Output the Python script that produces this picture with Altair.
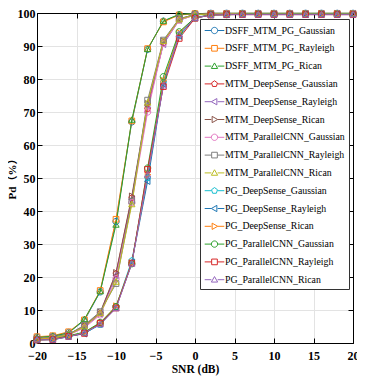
import altair as alt
import pandas as pd

snr = list(range(-20, 21, 2))

series_names = [
    "DSFF_MTM_PG_Gaussian", "DSFF_MTM_PG_Rayleigh", "DSFF_MTM_PG_Rican",
    "MTM_DeepSense_Gaussian", "MTM_DeepSense_Rayleigh", "MTM_DeepSense_Rican",
    "MTM_ParallelCNN_Gaussian", "MTM_ParallelCNN_Rayleigh", "MTM_ParallelCNN_Rican",
    "PG_DeepSense_Gaussian", "PG_DeepSense_Rayleigh", "PG_DeepSense_Rican",
    "PG_ParallelCNN_Gaussian", "PG_ParallelCNN_Rayleigh", "PG_ParallelCNN_Rican",
]

tail_hi = [99.8, 99.9, 99.9, 99.9, 99.9, 99.9, 99.9, 99.9, 99.9, 99.9, 99.9]
dsff_gauss = [1.8, 2.0, 3.2, 6.8, 15.5, 36.8, 67.0, 89.0, 97.5, 99.5] + tail_hi
dsff_rayl = [1.9, 2.2, 3.4, 7.0, 15.9, 37.5, 67.3, 89.2, 97.3, 99.4] + tail_hi
dsff_rican = [1.6, 2.1, 3.0, 7.2, 15.6, 35.8, 67.6, 89.0, 97.6, 99.6] + tail_hi
mtm_ds_gauss = [1.2, 1.6, 2.6, 5.0, 9.0, 21.0, 44.0, 71.0, 91.0, 98.0, 99.5, 99.7, 99.8, 99.8, 99.8, 99.8, 99.8, 99.8, 99.8, 99.8, 99.8]
mtm_ds_rayl = [1.1, 1.5, 2.5, 4.8, 8.8, 20.5, 43.5, 72.0, 90.5, 97.8, 99.4, 99.7, 99.7, 99.8, 99.8, 99.8, 99.8, 99.8, 99.8, 99.8, 99.8]
mtm_ds_rican = [1.3, 1.7, 2.7, 5.2, 9.3, 21.3, 44.5, 72.5, 91.5, 98.2, 99.6, 99.8, 99.8, 99.8, 99.8, 99.8, 99.8, 99.8, 99.8, 99.8, 99.8]
mtm_pc_gauss = [1.0, 1.5, 2.4, 4.6, 8.5, 19.5, 42.5, 70.0, 90.8, 97.8, 99.4, 99.7, 99.7, 99.7, 99.7, 99.7, 99.7, 99.7, 99.7, 99.7, 99.7]
mtm_pc_rayl = [1.2, 1.8, 2.6, 5.4, 9.5, 18.0, 43.0, 73.6, 91.8, 98.3, 99.5, 99.7, 99.7, 99.7, 99.7, 99.7, 99.7, 99.7, 99.7, 99.7, 99.7]
mtm_pc_rican = [1.1, 1.6, 2.5, 5.0, 9.0, 18.5, 42.0, 72.8, 91.5, 98.0, 99.5, 99.7, 99.7, 99.7, 99.7, 99.7, 99.7, 99.7, 99.7, 99.7, 99.7]
pg_ds_gauss = [0.9, 1.0, 1.9, 3.0, 5.5, 11.0, 25.0, 50.0, 79.0, 93.5, 98.4, 99.4, 99.5, 99.6, 99.6, 99.6, 99.6, 99.6, 99.6, 99.6, 99.6]
pg_ds_rayl = [1.0, 1.1, 2.0, 2.8, 5.8, 10.8, 24.5, 49.0, 78.5, 93.0, 98.5, 99.4, 99.5, 99.6, 99.6, 99.6, 99.6, 99.6, 99.6, 99.6, 99.6]
pg_ds_rican = [1.1, 1.2, 2.1, 3.2, 6.0, 11.2, 24.3, 51.0, 79.5, 94.0, 98.6, 99.4, 99.5, 99.6, 99.6, 99.6, 99.6, 99.6, 99.6, 99.6, 99.6]
pg_pc_gauss = [1.0, 1.1, 2.2, 3.3, 6.2, 11.0, 24.0, 53.0, 80.7, 94.3, 98.6, 99.5, 99.5, 99.6, 99.6, 99.6, 99.6, 99.6, 99.6, 99.6, 99.6]
pg_pc_rayl = [0.9, 1.0, 2.0, 2.9, 6.0, 10.6, 24.2, 52.6, 77.7, 92.3, 98.4, 99.4, 99.5, 99.5, 99.5, 99.5, 99.5, 99.5, 99.5, 99.5, 99.5]
pg_pc_rican = [1.0, 1.0, 1.9, 3.1, 5.6, 10.5, 24.0, 51.0, 78.0, 93.5, 98.5, 99.4, 99.5, 99.5, 99.5, 99.5, 99.5, 99.5, 99.5, 99.5, 99.5]

series_values = [
    dsff_gauss, dsff_rayl, dsff_rican,
    mtm_ds_gauss, mtm_ds_rayl, mtm_ds_rican,
    mtm_pc_gauss, mtm_pc_rayl, mtm_pc_rican,
    pg_ds_gauss, pg_ds_rayl, pg_ds_rican,
    pg_pc_gauss, pg_pc_rayl, pg_pc_rican,
]

colors = ["#1f77b4", "#ff7f0e", "#2ca02c", "#d62728", "#9467bd", "#8c564b",
          "#e377c2", "#7f7f7f", "#bcbd22", "#17becf",
          "#1f77b4", "#ff7f0e", "#2ca02c", "#d62728", "#9467bd"]
marker_kinds = ["o", "s", "^", "p", "<", ">", "o", "s", "^", "p", "<", ">", "o", "s", "^"]


def marker_path(kind, r):
    if kind == "o":
        return f"M{r},0A{r},{r} 0 1,1 {-r},0A{r},{r} 0 1,1 {r},0Z"
    if kind == "s":
        a = r * 0.9
        return f"M{-a},{-a}H{a}V{a}H{-a}Z"
    if kind == "^":
        return f"M0,{-r}L{r*1.0},{r*0.75}L{-r*1.0},{r*0.75}Z"
    if kind == "<":
        return f"M{-r},0L{r*0.75},{-r}L{r*0.75},{r}Z"
    if kind == ">":
        return f"M{r},0L{-r*0.75},{-r}L{-r*0.75},{r}Z"
    # pentagon
    return (f"M0,{-r}L{r*0.95},{-r*0.31}L{r*0.59},{r*0.81}"
            f"L{-r*0.59},{r*0.81}L{-r*0.95},{-r*0.31}Z")


plot_shapes = [marker_path(k, 0.9) for k in marker_kinds]
legend_shapes = [f"M-1.4,0H-0.45M0.45,0H1.4" + marker_path(k, 0.45) for k in marker_kinds]

rows = []
for i, (name, vals) in enumerate(zip(series_names, series_values)):
    for x, v in zip(snr, vals):
        rows.append({"series": name, "order": i, "snr": x, "pd": v})
df = pd.DataFrame(rows)

FONT = "Liberation Serif"

xscale = alt.Scale(domain=[-20, 20], nice=False)
yscale = alt.Scale(domain=[0, 100], nice=False)
color_scale = alt.Scale(domain=series_names, range=colors)

tick_in = alt.ExprRef("-5")

x_bottom = alt.Axis(values=list(range(-20, 21, 5)), grid=True, gridColor="#e3e3e3",
                    tickSize=tick_in, tickColor="black", domainColor="black",
                    labelFont=FONT, labelFontWeight="bold", labelFontSize=12,
                    labelColor="black", labelPadding=12, labelFlush=False,
                    title="SNR (dB)", titleFont=FONT, titleFontWeight="bold",
                    titleFontSize=11.5, titleColor="black", titlePadding=2)
y_left = alt.Axis(values=list(range(0, 101, 10)), grid=True, gridColor="#e3e3e3",
                  tickSize=tick_in, tickColor="black", domainColor="black",
                  labelFont=FONT, labelFontWeight="bold", labelFontSize=12,
                  labelColor="black", labelPadding=7, labelFlush=False,
                  title="Pd（%）", titleFont=f"{FONT}, Noto Sans CJK SC",
                  titleFontWeight="bold", titleFontSize=11, titleColor="black",
                  titleX=-25, titleY=163, titleAlign="center", titleBaseline="middle")
x_top = alt.Axis(orient="top", values=list(range(-20, 21, 5)), grid=False, labels=False,
                 tickSize=tick_in, tickColor="black", domainColor="black", title=None)
y_right = alt.Axis(orient="right", values=list(range(0, 101, 10)), grid=False, labels=False,
                   tickSize=tick_in, tickColor="black", domainColor="black", title=None)

base = alt.Chart(df)

lines = base.mark_line(strokeWidth=1).encode(
    x=alt.X("snr:Q", scale=xscale, axis=x_bottom),
    y=alt.Y("pd:Q", scale=yscale, axis=y_left),
    color=alt.Color("series:N", scale=color_scale, legend=None),
    order=alt.Order("order:Q"),
    detail="series:N",
)

points = base.mark_point(filled=False, strokeWidth=1, size=49, opacity=1).encode(
    x=alt.X("snr:Q", scale=xscale, axis=None),
    y=alt.Y("pd:Q", scale=yscale, axis=None),
    color=alt.Color("series:N", scale=color_scale, legend=None),
    shape=alt.Shape("series:N", scale=alt.Scale(domain=series_names, range=plot_shapes), legend=None),
    order=alt.Order("order:Q"),
)

legend_layer = base.transform_filter("false").mark_point(filled=False, strokeWidth=1, opacity=1).encode(
    x=alt.X("snr:Q", scale=xscale, axis=x_top),
    y=alt.Y("pd:Q", scale=yscale, axis=y_right),
    shape=alt.Shape("series:N", scale=alt.Scale(domain=series_names, range=legend_shapes),
                    legend=alt.Legend(
                        title=None,
                        symbolStrokeColor=alt.ExprRef("scale('color', datum.value)"),
                        symbolFillColor="white",
                        symbolStrokeWidth=1,
                        symbolOpacity=1,
                    )),
)

chart = alt.layer(lines, points, legend_layer).resolve_scale(
    shape="independent"
).resolve_axis(
    x="independent", y="independent"
).properties(
    width=316, height=330,
    autosize=alt.AutoSizeParams(type="none"),
    padding={"left": 29, "top": 5, "right": 4, "bottom": 33},
).configure_view(
    stroke="black", strokeWidth=1
).configure_legend(
    orient="none", legendX=163, legendY=6,
    labelFont=FONT, labelFontSize=9.8, labelColor="black",
    symbolSize=196, symbolOffset=3,
    labelOffset=3, rowPadding=4.8, padding=4,
    strokeColor="#333333", fillColor="white", cornerRadius=0,
)

chart.save("out.html", embed_options={"renderer": "svg", "actions": False})
